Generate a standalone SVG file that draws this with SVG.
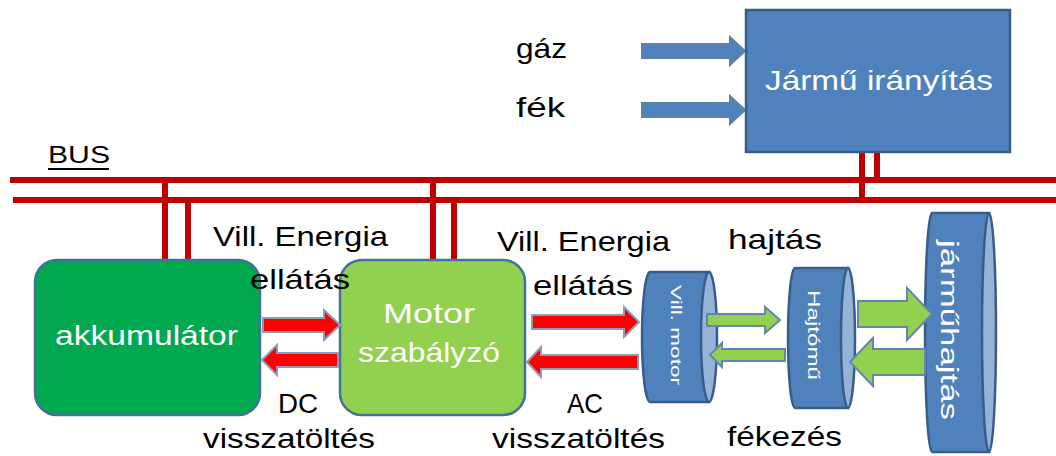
<svg xmlns="http://www.w3.org/2000/svg" width="1056" height="456" viewBox="0 0 1056 456">
<style>
.lbl{font-family:"Liberation Sans",Arial,sans-serif;font-size:28px;fill:#000}
.wt{font-family:"Liberation Sans",Arial,sans-serif;fill:#fff}
.bus{stroke:#c00000;stroke-width:6;fill:none}
.red{fill:#ff0000;stroke:#8c9cb8;stroke-width:2}
.grn{fill:#92d050;stroke:#6585b0;stroke-width:2}
.blu{fill:#4f81bd;stroke:#5f80ad;stroke-width:2}
.cyl{fill:#4f81bd;stroke:#385d8a;stroke-width:2.5}
.cylf{fill:#95b3d7;stroke:#385d8a;stroke-width:2.5}
</style>
<rect width="1056" height="456" fill="#fff"/>

<g id="connectors">
  <line class="bus" x1="10" y1="180" x2="1056" y2="180"/>
  <line class="bus" x1="13" y1="200" x2="1056" y2="200"/>
  <line class="bus" x1="165" y1="180" x2="165" y2="260"/>
  <line class="bus" x1="188" y1="200" x2="188" y2="260"/>
  <line class="bus" x1="433" y1="180" x2="433" y2="260"/>
  <line class="bus" x1="454" y1="200" x2="454" y2="260"/>
  <line class="bus" x1="862" y1="152" x2="862" y2="200"/>
  <line class="bus" x1="877" y1="152" x2="877" y2="180"/>
  <polygon class="blu" points="642,44 730,44 730,37 745,51 730,65 730,58 642,58"/>
  <polygon class="blu" points="642,103 730,103 730,96 745,110 730,124 730,117 642,117"/>
</g>

<g id="bus-label">
  <text class="lbl" x="48" y="163" textLength="62" lengthAdjust="spacingAndGlyphs" style="font-size:24px">BUS</text>
  <line x1="48" y1="169" x2="109" y2="169" stroke="#000" stroke-width="2"/>
</g>

<g id="jarmu-iranyitas">
  <rect x="746" y="10" width="264" height="142" fill="#4f81bd" stroke="#385d8a" stroke-width="2.5"/>
  <text class="wt" x="879" y="90" font-size="28" text-anchor="middle" textLength="228" lengthAdjust="spacingAndGlyphs">Jármű irányítás</text>
</g>

<g id="akkumulator">
  <rect x="35" y="260" width="225" height="155" rx="22" fill="#00a94f" stroke="#41719c" stroke-width="2.5"/>
  <text class="wt" x="146.5" y="345" font-size="27" text-anchor="middle" textLength="183" lengthAdjust="spacingAndGlyphs">akkumulátor</text>
</g>

<g id="motor-szabalyzo">
  <rect x="340" y="260" width="185" height="155" rx="22" fill="#92d050" stroke="#41719c" stroke-width="2.5"/>
  <text class="wt" x="429" y="323" font-size="28" text-anchor="middle" textLength="92" lengthAdjust="spacingAndGlyphs">Motor</text>
  <text class="wt" x="429" y="362" font-size="28" text-anchor="middle" textLength="142" lengthAdjust="spacingAndGlyphs">szabályzó</text>
</g>

<g id="vill-motor">
  <path class="cyl" d="M709,272 L650,272 A8,65 0 0 0 650,402 L709,402 Z"/>
  <ellipse class="cylf" cx="709" cy="337" rx="8" ry="65"/>
  <text class="wt" x="0" y="0" font-size="14" text-anchor="middle" textLength="100" lengthAdjust="spacingAndGlyphs" transform="translate(671,335) rotate(90)">Vill. motor</text>
</g>

<g id="hajtomu">
  <path class="cyl" d="M848,268 L795,268 A7,70 0 0 0 795,408 L848,408 Z"/>
  <ellipse class="cylf" cx="848" cy="338" rx="7" ry="70"/>
  <text class="wt" x="0" y="0" font-size="16" text-anchor="middle" textLength="90" lengthAdjust="spacingAndGlyphs" transform="translate(808,335) rotate(90)">Hajtómű</text>
</g>

<g id="jarmuhajtas">
  <path class="cyl" d="M989,213 L932,213 A7,119.5 0 0 0 932,452 L989,452 Z"/>
  <ellipse class="cylf" cx="989" cy="332.5" rx="7" ry="119.5"/>
  <text class="wt" x="0" y="0" font-size="23" text-anchor="middle" textLength="180" lengthAdjust="spacingAndGlyphs" transform="translate(941,330) rotate(90)">járműhajtás</text>
</g>

<g id="flow-arrows">
  <polygon class="red" points="263,318 324,318 324,310 340,325 324,340 324,332 263,332"/>
  <polygon class="red" points="262,360 277,345 277,353 338,353 338,367 277,367 277,375"/>
  <polygon class="red" points="532,315 624,315 624,307 639,322 624,337 624,329 532,329"/>
  <polygon class="red" points="527,362 541,347 541,355 638,355 638,369 541,369 541,377"/>
  <polygon class="grn" points="707,314 765,314 765,307 780,320 765,333 765,326 707,326"/>
  <polygon class="grn" points="710,355 722,343 722,349 785,349 785,361 722,361 722,367"/>
  <polygon class="grn" points="858,301 907,301 907,288 932,314 907,340 907,327 858,327"/>
  <polygon class="grn" points="850,362 873,338 873,349 925,349 925,375 873,375 873,386"/>
</g>

<g id="labels">
  <text class="lbl" x="516" y="58" textLength="51" lengthAdjust="spacingAndGlyphs">gáz</text>
  <text class="lbl" x="516" y="117" textLength="49" lengthAdjust="spacingAndGlyphs">fék</text>
  <text class="lbl" x="300.5" y="246" text-anchor="middle" textLength="175" lengthAdjust="spacingAndGlyphs">Vill. Energia</text>
  <text class="lbl" x="300" y="289" text-anchor="middle" textLength="100" lengthAdjust="spacingAndGlyphs">ellátás</text>
  <text class="lbl" x="298" y="413" text-anchor="middle" textLength="40" lengthAdjust="spacingAndGlyphs">DC</text>
  <text class="lbl" x="289" y="448" text-anchor="middle" textLength="172" lengthAdjust="spacingAndGlyphs">visszatöltés</text>
  <text class="lbl" x="583.5" y="251" text-anchor="middle" textLength="173" lengthAdjust="spacingAndGlyphs">Vill. Energia</text>
  <text class="lbl" x="583" y="295" text-anchor="middle" textLength="100" lengthAdjust="spacingAndGlyphs">ellátás</text>
  <text class="lbl" x="585" y="413" text-anchor="middle" textLength="36" lengthAdjust="spacingAndGlyphs">AC</text>
  <text class="lbl" x="578.5" y="448" text-anchor="middle" textLength="173" lengthAdjust="spacingAndGlyphs">visszatöltés</text>
  <text class="lbl" x="775" y="249" text-anchor="middle" textLength="94" lengthAdjust="spacingAndGlyphs">hajtás</text>
  <text class="lbl" x="784.5" y="446" text-anchor="middle" textLength="115" lengthAdjust="spacingAndGlyphs">fékezés</text>
</g>
</svg>
